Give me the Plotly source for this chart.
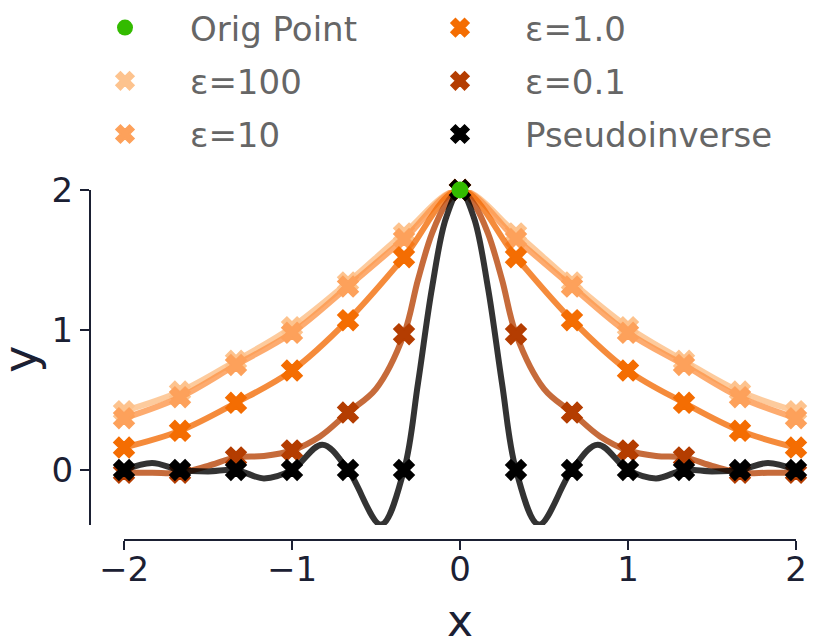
import plotly.graph_objects as go

# sample points (x) and fitted values at them
x_points = [-2, -5/3, -4/3, -1, -2/3, -1/3, 0, 1/3, 2/3, 1, 4/3, 5/3, 2]
y_eps100 = [0.42, 0.56, 0.78, 1.02, 1.34, 1.69, 2.0, 1.69, 1.34, 1.02, 0.78, 0.56, 0.42]
y_eps10 = [0.37, 0.52, 0.75, 0.98, 1.31, 1.65, 2.0, 1.65, 1.31, 0.98, 0.75, 0.52, 0.37]
y_eps1 = [0.16, 0.28, 0.48, 0.71, 1.07, 1.52, 2.0, 1.52, 1.07, 0.71, 0.48, 0.28, 0.16]
y_eps01 = [-0.02, -0.02, 0.09, 0.14, 0.41, 0.97, 2.0, 0.97, 0.41, 0.14, 0.09, -0.02, -0.02]
y_pinv = [0, 0, 0, 0, 0, 0, 2.0, 0, 0, 0, 0, 0, 0]

orig_x = [0]
orig_y = [2.0]

# denser read-off of the two wiggly curves
x_curve01 = [-2, -11/6, -5/3, -3/2, -4/3, -7/6, -1, -5/6, -2/3, -1/2, -1/3, -1/4, -1/6, -1/12, 0,
             1/12, 1/6, 1/4, 1/3, 1/2, 2/3, 5/6, 1, 7/6, 4/3, 3/2, 5/3, 11/6, 2]
curve_eps01 = [-0.02, -0.02, -0.02, 0.03, 0.09, 0.10, 0.14, 0.24, 0.41, 0.58, 0.97, 1.36, 1.69, 1.90, 2.0,
               1.90, 1.69, 1.36, 0.97, 0.58, 0.41, 0.24, 0.14, 0.10, 0.09, 0.03, -0.02, -0.02, -0.02]
x_curve_pinv = [-2, -11/6, -5/3, -3/2, -4/3, -7/6, -1, -0.82, -2/3, -0.47, -1/3, -1/4, -1/6, -1/12, 0,
                1/12, 1/6, 1/4, 1/3, 0.47, 2/3, 0.82, 1, 7/6, 4/3, 3/2, 5/3, 11/6, 2]
curve_pinv = [0, 0.05, 0, -0.01, 0, -0.06, 0, 0.18, 0, -0.39, 0, 0.62, 1.30, 1.80, 2.0,
              1.80, 1.30, 0.62, 0, -0.39, 0, 0.18, 0, -0.06, 0, -0.01, 0, 0.05, 0]

series = [
    # name, line x, line y, marker y, line colour, marker colour, legend
    ("ε=100", x_points, y_eps100, y_eps100, "rgba(253,190,133,0.8)", "#fdc38e", "legend"),
    ("ε=10", x_points, y_eps10, y_eps10, "rgba(253,150,75,0.8)", "#fda15b", "legend"),
    ("ε=1.0", x_points, y_eps1, y_eps1, "rgba(242,110,10,0.8)", "#f46d02", "legend2"),
    ("ε=0.1", x_curve01, curve_eps01, y_eps01, "rgba(184,70,10,0.8)", "#b43d01", "legend2"),
    ("Pseudoinverse", x_curve_pinv, curve_pinv, y_pinv, "rgba(0,0,0,0.8)", "#000000", "legend2"),
]
ranks = {"ε=100": 2, "ε=10": 3, "ε=1.0": 1, "ε=0.1": 2, "Pseudoinverse": 3}

fig = go.Figure()
for name, lx, ly, my, lcol, mcol, leg in series:
    fig.add_trace(go.Scatter(x=lx, y=ly, mode="lines", line=dict(color=lcol, width=6, shape="spline"),
                             showlegend=False, hoverinfo="skip"))
    fig.add_trace(go.Scatter(x=x_points, y=my, mode="markers", name=name,
                             marker=dict(symbol="x", size=18, color=mcol, line=dict(color=mcol, width=1.5)),
                             cliponaxis=False, legend=leg, legendgroup=name, legendrank=ranks[name]))

fig.add_trace(go.Scatter(x=orig_x, y=orig_y, mode="markers", name="Orig Point",
                         marker=dict(symbol="circle", size=17, color="#33bb00"),
                         cliponaxis=False, legend="legend", legendgroup="orig", legendrank=1))

axis_col = "#1b2033"
legend_style = dict(
    orientation="v",
    traceorder="grouped",
    tracegroupgap=6,
    itemwidth=120,
    font=dict(size=34, color="#666666"),
    bgcolor="rgba(0,0,0,0)",
    yref="paper",
    yanchor="top",
    xanchor="left",
)

# the page body adds 8px, so the pixel layout below is shifted by -8
fig.update_layout(
    width=830,
    height=643,
    margin=dict(l=82, r=42, t=182, b=111, autoexpand=False),
    plot_bgcolor="white",
    paper_bgcolor="white",
    font=dict(family="DejaVu Sans", size=34, color=axis_col),
    xaxis=dict(
        domain=[34 / 706, 1],
        range=[-2, 2],
        anchor="free",
        position=0,
        dtick=1,
        showline=True,
        linecolor=axis_col,
        linewidth=2,
        ticks="outside",
        ticklen=9,
        tickwidth=2,
        tickcolor=axis_col,
        showgrid=False,
        zeroline=False,
        automargin=False,
        ticklabelstandoff=-10,
        tickfont=dict(size=34, color=axis_col),
    ),
    yaxis=dict(
        domain=[15 / 350, 1],
        range=[-0.393, 2],
        anchor="free",
        position=0,
        tickvals=[0, 1, 2],
        showline=True,
        linecolor=axis_col,
        linewidth=2,
        ticks="outside",
        ticklen=9,
        tickwidth=2,
        tickcolor=axis_col,
        showgrid=False,
        zeroline=False,
        automargin=False,
        ticklabelstandoff=0,
        tickfont=dict(size=34, color=axis_col),
    ),
    legend=dict(legend_style, xref="container", x=52 / 830, y=1 + 191 / 350),
    legend2=dict(legend_style, xref="container", x=387 / 830, y=1 + 191 / 350),
    annotations=[
        dict(text="x", xref="x", x=0, yref="paper", y=-0.231, yanchor="middle",
             showarrow=False, font=dict(size=44, color=axis_col)),
        dict(text="y", xref="paper", x=-0.099, yref="paper", y=0.515, textangle=-90,
             xanchor="center", yanchor="middle", showarrow=False, font=dict(size=46, color=axis_col)),
    ],
)

fig.write_html("out.html")
